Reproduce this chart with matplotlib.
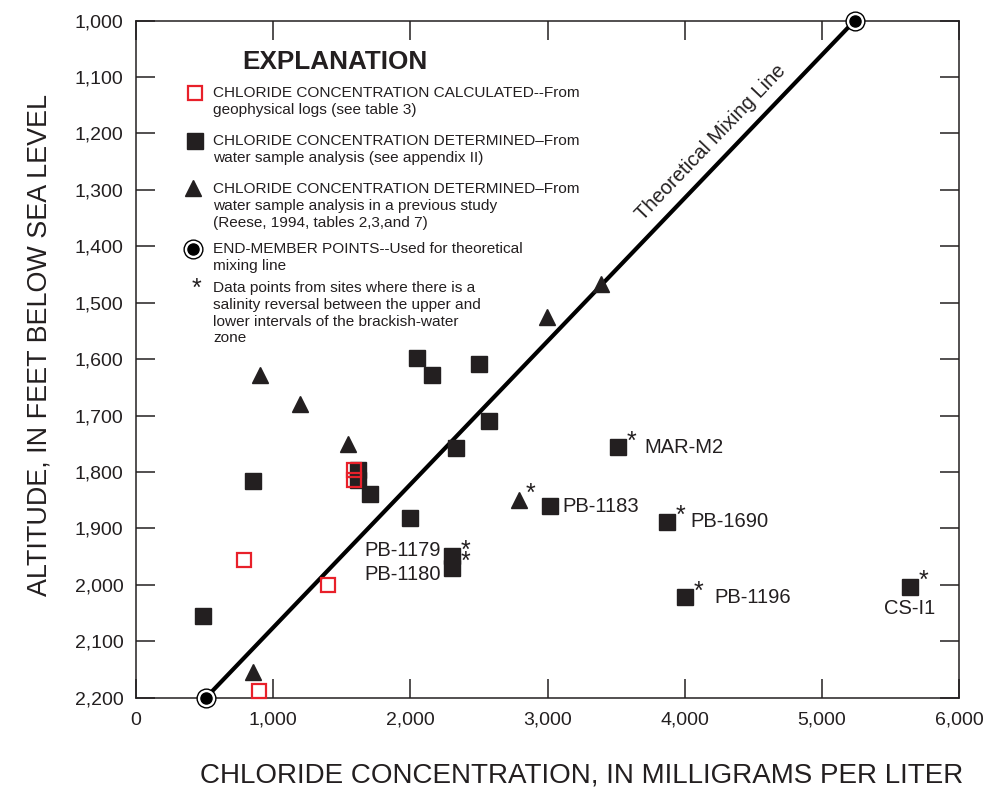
import math
import matplotlib
matplotlib.use('Agg')
import matplotlib.pyplot as plt

plt.rcParams['font.family'] = ['Liberation Sans', 'DejaVu Sans']

# chloride concentration (mg/L) vs altitude (ft below sea level)
calc_x = [790, 1400, 900, 1590, 1590]
calc_y = [1956, 2000, 2188, 1797, 1814]

sample_x = [490, 853, 2048, 2157, 2500, 2573, 2332, 1997, 1706, 1620, 1620]
sample_y = [2055, 1816, 1598, 1628, 1609, 1710, 1757, 1881, 1839, 1797, 1814]

named_x = [3513, 3017, 3870, 4001, 5641, 2303, 2303]
named_y = [1756, 1861, 1888, 2022, 2003, 1949, 1970]
named_lbl = ['MAR-M2', 'PB-1183', 'PB-1690', 'PB-1196', 'CS-I1', 'PB-1179', 'PB-1180']
named_star = [True, False, True, True, True, True, True]

prev_x = [853, 904, 1195, 1545, 2795, 2996, 3389]
prev_y = [2154, 1628, 1680, 1751, 1849, 1525, 1467]
prev_star = [False, False, False, False, True, False, False]

end_x = [510, 5240]
end_y = [2200, 1000]

ink = '#231f20'
W, H = 985, 791
fig = plt.figure(figsize=(W / 100, H / 100), dpi=100)
L, R, T, B = 136, 959, 20.6, 697.7
ax = fig.add_axes([L / W, 1 - B / H, (R - L) / W, (B - T) / H])

ax.set_xlim(0, 6000)
ax.set_ylim(2200, 1000)
ax.set_xticks(range(0, 6001, 1000))
ax.set_xticklabels(['0', '1,000', '2,000', '3,000', '4,000', '5,000', '6,000'])
ax.set_yticks(range(1000, 2201, 100))
ax.set_yticklabels(['{:,}'.format(v) for v in range(1000, 2201, 100)])
ax.tick_params(direction='in', length=13.5, width=1.1, color=ink, labelcolor=ink,
               labelsize=14, top=True, right=True)
ax.tick_params(axis='y', pad=9)
ax.tick_params(axis='x', pad=10)
for s in ax.spines.values():
    s.set_color(ink)
    s.set_linewidth(1.1)

# mixing line
ax.plot(end_x, end_y, color='black', lw=3, solid_capstyle='butt', zorder=2)
ax.plot(end_x, end_y, 'o', ms=13.5, mfc='white', mec='black', mew=1.0, zorder=3, clip_on=False)
ax.plot(end_x, end_y, 'o', ms=8, color='black', zorder=4, clip_on=False)

p1 = ax.transData.transform((end_x[0], end_y[0]))
p2 = ax.transData.transform((end_x[1], end_y[1]))
ang = math.degrees(math.atan2(p2[1] - p1[1], p2[0] - p1[0]))
t = 0.80
mx = end_x[0] + t * (end_x[1] - end_x[0])
my = end_y[0] + t * (end_y[1] - end_y[0])
ax.annotate('Theoretical Mixing Line', xy=(mx, my), xytext=(-10, 10), textcoords='offset points',
            rotation=ang, rotation_mode='anchor', ha='center', va='center', fontsize=14.5, color=ink)

# points
ax.plot(sample_x, sample_y, 's', ms=11.5, color=ink, zorder=5)
ax.plot(named_x, named_y, 's', ms=11.5, color=ink, zorder=5)
ax.plot(prev_x, prev_y, '^', ms=12, color=ink, zorder=5, clip_on=False)
ax.plot(calc_x, calc_y, 's', ms=9.5, mfc='none', mec='#e8202a', mew=1.6, zorder=6, clip_on=False)

label_off = {'MAR-M2': (19, 0, 'left'), 'PB-1183': (9, 0, 'left'), 'PB-1690': (17, 0, 'left'),
             'PB-1196': (21, 0, 'left'), 'CS-I1': (0, -16, 'center'),
             'PB-1179': (-8, 4, 'right'), 'PB-1180': (-8, -5, 'right')}
for x, y, lbl, st in zip(named_x, named_y, named_lbl, named_star):
    dx, dy, ha = label_off[lbl]
    ax.annotate(lbl, xy=(x, y), xytext=(dx, dy), textcoords='offset points',
                ha=ha, va='center', fontsize=14.5, color=ink)
    if st:
        ax.annotate('*', xy=(x, y), xytext=(10, -1), textcoords='offset points',
                    ha='center', va='baseline', fontsize=18, color=ink)
for x, y, st in zip(prev_x, prev_y, prev_star):
    if st:
        ax.annotate('*', xy=(x, y), xytext=(8, -1), textcoords='offset points',
                    ha='center', va='baseline', fontsize=18, color=ink)

# explanation
def fx(px):
    return px / W

def fy(py):
    return 1 - py / H

fig.text(fx(335), fy(62), 'EXPLANATION', ha='center', va='center', fontsize=18.8,
         fontweight='bold', color=ink)
entries = [
    (93, ['CHLORIDE CONCENTRATION CALCULATED--From', 'geophysical logs (see table 3)']),
    (141, ['CHLORIDE CONCENTRATION DETERMINED\u2013From', 'water sample analysis (see appendix II)']),
    (189, ['CHLORIDE CONCENTRATION DETERMINED\u2013From', 'water sample analysis in a previous study',
           '(Reese, 1994, tables 2,3,and 7)']),
    (249, ['END-MEMBER POINTS--Used for theoretical', 'mixing line']),
    (288, ['Data points from sites where there is a', 'salinity reversal between the upper and',
           'lower intervals of the brackish-water', 'zone']),
]
for y0, lines in entries:
    for i, s in enumerate(lines):
        fig.text(fx(213), fy(y0 + i * 16.8), s, ha='left', va='center', fontsize=11.1, color=ink)

fig.lines.append(plt.Line2D([fx(195)], [fy(93)], marker='s', ms=9.5, mfc='none', mec='#e8202a',
                            mew=1.6, transform=fig.transFigure))
fig.lines.append(plt.Line2D([fx(195)], [fy(141)], marker='s', ms=11.5, color=ink,
                            transform=fig.transFigure))
fig.lines.append(plt.Line2D([fx(193)], [fy(188)], marker='^', ms=12, color=ink,
                            transform=fig.transFigure))
fig.lines.append(plt.Line2D([fx(193)], [fy(249)], marker='o', ms=13.5, mfc='white', mec='black',
                            mew=1.0, transform=fig.transFigure))
fig.lines.append(plt.Line2D([fx(193)], [fy(249)], marker='o', ms=8, color='black',
                            transform=fig.transFigure))
fig.text(fx(196), fy(296), '*', ha='center', va='baseline', fontsize=18, color=ink)

fig.text(fx(582), fy(775), 'CHLORIDE CONCENTRATION, IN MILLIGRAMS PER LITER', ha='center',
         va='center', fontsize=20, color=ink)
fig.text(fx(40), fy(345), 'ALTITUDE, IN FEET BELOW SEA LEVEL', ha='center', va='center',
         rotation=90, fontsize=19.4, color=ink)

fig.savefig('out.png', dpi=100)
